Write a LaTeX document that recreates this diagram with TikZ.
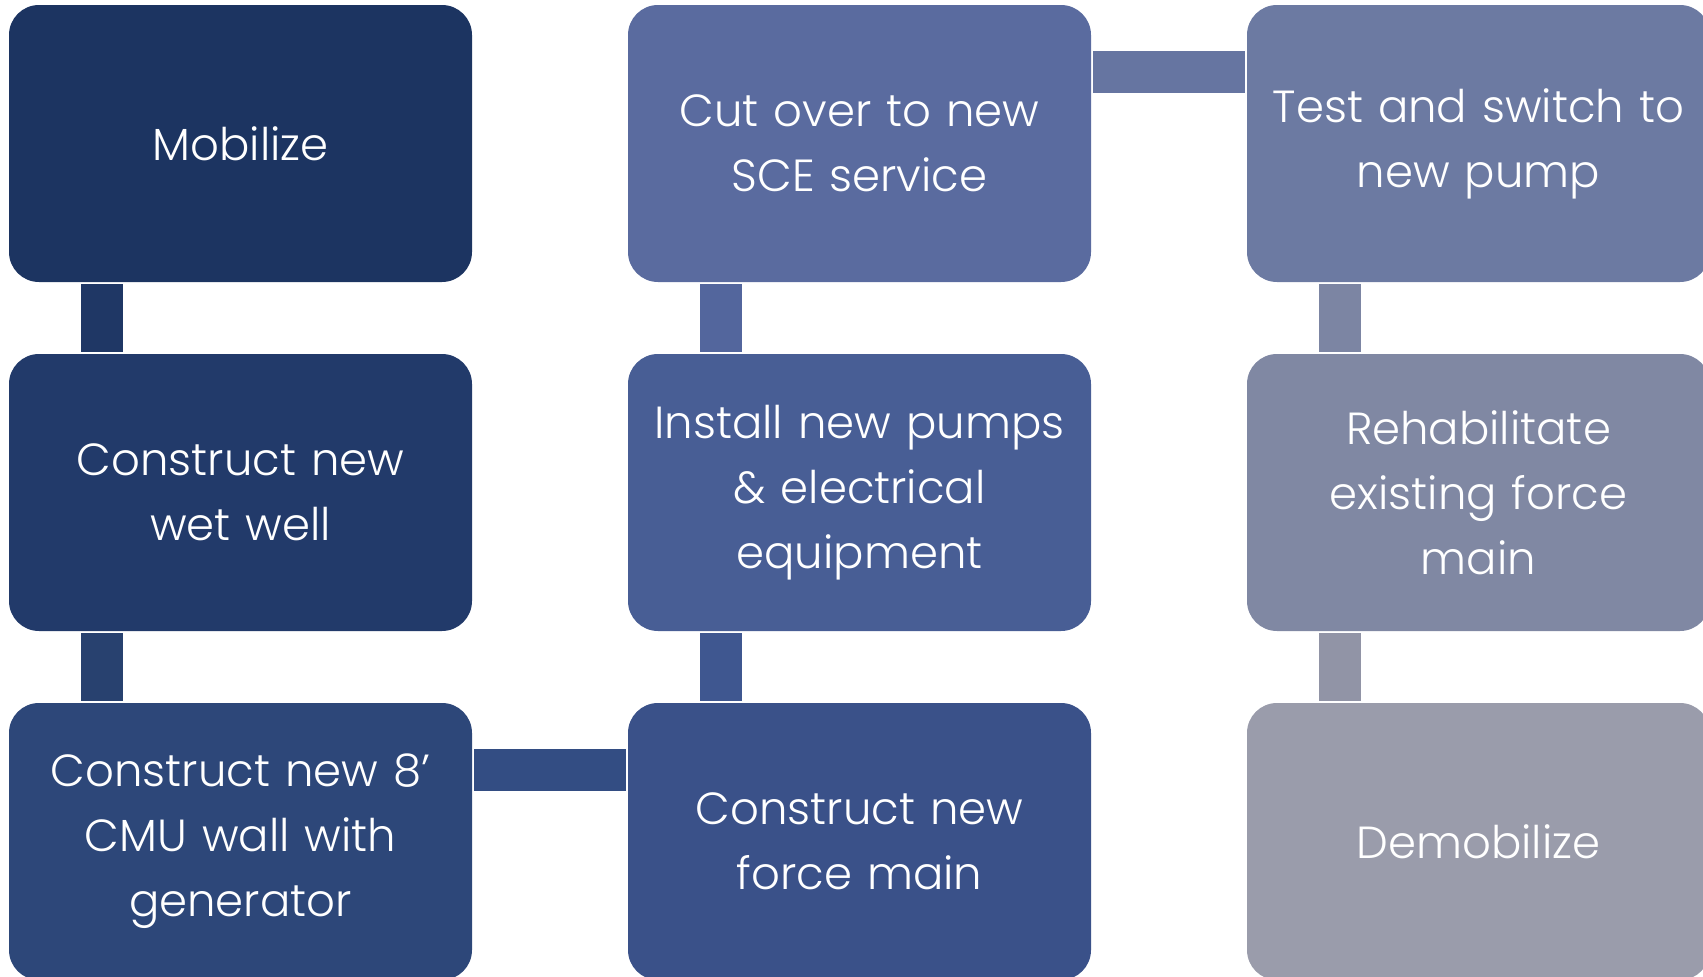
\documentclass[tikz,border=0pt]{standalone}
\usepackage{fontspec}
\setmainfont{Poppins}[UprightFont=* Light]
\definecolor{cA}{HTML}{1C3461}
\definecolor{cB}{HTML}{223A6A}
\definecolor{cC}{HTML}{2D4779}
\definecolor{cD}{HTML}{3A5189}
\definecolor{cE}{HTML}{485E95}
\definecolor{cF}{HTML}{5A6B9F}
\definecolor{cG}{HTML}{6C7AA2}
\definecolor{cH}{HTML}{8088A3}
\definecolor{cI}{HTML}{9A9CAB}
\definecolor{kA}{HTML}{1F3765}
\definecolor{kB}{HTML}{28416F}
\definecolor{kC}{HTML}{334D83}
\definecolor{kD}{HTML}{3F5790}
\definecolor{kE}{HTML}{53669D}
\definecolor{kF}{HTML}{6675A1}
\definecolor{kG}{HTML}{7C85A3}
\definecolor{kH}{HTML}{9194A6}
\begin{document}
\begin{tikzpicture}[x=1pt,y=-1pt,
  stepbox/.style={rounded corners=30pt, minimum width=463pt, minimum height=277pt,
    inner sep=0pt, text=white, align=center, text width=455pt,
    font=\fontsize{45}{65}\selectfont},
  vlink/.style={line width=42pt, shorten <=2pt, shorten >=2pt},
  hlink/.style={line width=42pt, shorten <=2pt, shorten >=2pt}]
\useasboundingbox (0,0) rectangle (1703,977);
\node[stepbox, fill=cA] (b1) at (240.5,143.5) {Mobilize};
\node[stepbox, fill=cB] (b2) at (240.5,492.5) {Construct new\\wet well};
\node[stepbox, fill=cC] (b3) at (240.5,841.5) {Construct new 8’\\CMU wall with\\generator};
\node[stepbox, fill=cD] (b4) at (859.5,841.5) {Construct new\\force main};
\node[stepbox, fill=cE] (b5) at (859.5,492.5) {Install new pumps\\\& electrical\\equipment};
\node[stepbox, fill=cF] (b6) at (859.5,143.5) {Cut over to new\\SCE service};
\node[stepbox, fill=cG] (b7) at (1478.5,143.5) {Test and switch to\\new pump};
\node[stepbox, fill=cH] (b8) at (1478.5,492.5) {Rehabilitate\\existing force\\main};
\node[stepbox, fill=cI] (b9) at (1478.5,841.5) {Demobilize};
% vertical links, x offset 93 from box left
\draw[vlink, kA] ([xshift=93pt]b1.south west) -- ([xshift=93pt]b2.north west);
\draw[vlink, kB] ([xshift=93pt]b2.south west) -- ([xshift=93pt]b3.north west);
\draw[hlink, kC] ([yshift=-67.5pt]b3.north east) -- ([yshift=-67.5pt]b4.north west);
\draw[vlink, kD] ([xshift=93pt]b4.north west) -- ([xshift=93pt]b5.south west);
\draw[vlink, kE] ([xshift=93pt]b5.north west) -- ([xshift=93pt]b6.south west);
\draw[hlink, kF] ([yshift=-67.5pt]b6.north east) -- ([yshift=-67.5pt]b7.north west);
\draw[vlink, kG] ([xshift=93pt]b7.south west) -- ([xshift=93pt]b8.north west);
\draw[vlink, kH] ([xshift=93pt]b8.south west) -- ([xshift=93pt]b9.north west);
\end{tikzpicture}
\end{document}
